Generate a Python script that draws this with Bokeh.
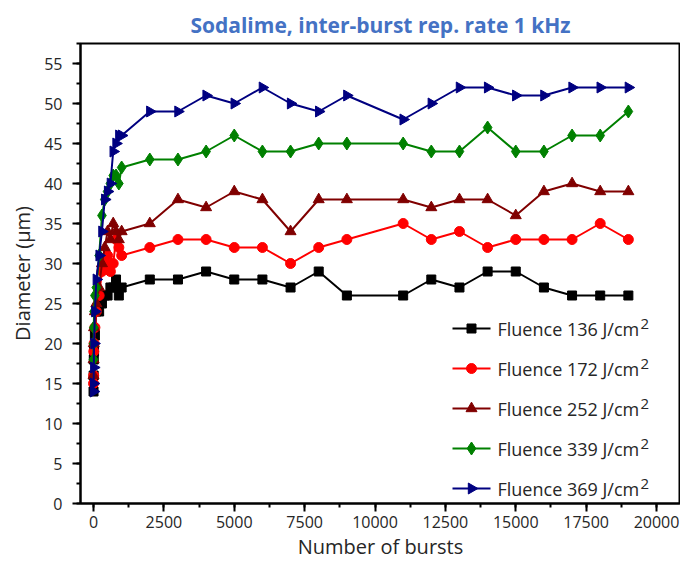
import math
from bokeh.plotting import figure
from bokeh.models import Range1d, SingleIntervalTicker
from bokeh.core.properties import value
from bokeh.embed import file_html
from bokeh.resources import INLINE

# ---- data ----
bursts = [1, 5, 10, 20, 50, 100, 200, 300, 400, 500, 600, 700, 800, 900, 1000,
          2000, 3000, 4000, 5000, 6000, 7000, 8000, 9000, 11000, 12000, 13000,
          14000, 15000, 16000, 17000, 18000, 19000]

d136 = [14, 16, 18, 19, 21, 24, 24, 25, 26, 26, 27, 27, 28, 26, 27,
        28, 28, 29, 28, 28, 27, 29, 26, 26, 28, 27, 29, 29, 27, 26, 26, 26]
d172 = [15, 16, 19, 20, 22, 24, 26, 29, 30, 31, 29, 30, 33, 32, 31,
        32, 33, 33, 32, 32, 30, 32, 33, 35, 33, 34, 32, 33, 33, 33, 35, 33]
d252 = [16, 18, 20, 22, 24, 25, 27, 30, 32, 34, 33, 35, 34, 33, 34,
        35, 38, 37, 39, 38, 34, 38, 38, 38, 37, 38, 38, 36, 39, 40, 39, 39]
d339 = [18, 20, 22, 24, 26, 27, 31, 36, 38, 39, 40, 41, 41, 40, 42,
        43, 43, 44, 46, 44, 44, 45, 45, 45, 44, 44, 47, 44, 44, 46, 46, 49]
d369 = [14, 15, 17, 20, 24, 28, 31, 34, 38, 39, 40, 44, 45, 46, 46,
        49, 49, 51, 50, 52, 50, 49, 51, 48, 50, 52, 52, 51, 51, 52, 52, 52]

fluences = [136, 172, 252, 339, 369]
labels = ["Fluence %d J/cm" % f for f in fluences]

FONT = "Open Sans"
TXT = "#262626"

FRAME_W, FRAME_H = 600, 460
p = figure(width=680, height=562, output_backend="svg", toolbar_location=None,
           x_range=Range1d(-462, 20852), y_range=Range1d(0, 57.5),
           min_border_left=80, min_border_right=0, min_border_top=43, min_border_bottom=59,
           title="Sodalime, inter-burst rep. rate 1 kHz")
# pixel-unit ranges for placing the legend box
p.extra_x_ranges = {"px": Range1d(0, FRAME_W)}
p.extra_y_ranges = {"px": Range1d(0, FRAME_H)}

p.title.align = "center"
p.title.text_font = FONT
p.title.text_font_size = "21px"
p.title.text_font_style = "bold"
p.title.text_color = "#4472C4"
p.title.offset = 0

p.xgrid.visible = False
p.ygrid.visible = False
p.outline_line_color = "black"
p.outline_line_width = 2
p.outline_line_alpha = 1

p.xaxis.ticker = SingleIntervalTicker(interval=2500, num_minor_ticks=2)
p.yaxis.ticker = SingleIntervalTicker(interval=5, num_minor_ticks=2)

for ax in (p.xaxis[0], p.yaxis[0]):
    ax.axis_line_width = 2
    ax.axis_line_color = "black"
    ax.major_tick_line_width = 2
    ax.minor_tick_line_width = 2
    ax.major_tick_in = 0
    ax.major_tick_out = 8
    ax.minor_tick_in = 0
    ax.minor_tick_out = 4
    ax.major_label_text_font = FONT
    ax.major_label_text_font_size = "16px"
    ax.major_label_text_color = TXT
    ax.axis_label_text_font = FONT
    ax.axis_label_text_font_size = "20px"
    ax.axis_label_text_font_style = "normal"
    ax.axis_label_text_color = TXT

p.xaxis.axis_label = "Number of bursts"
p.yaxis.axis_label = "Diameter (\u00b5m)"
p.xaxis.major_label_standoff = 4
p.xaxis.axis_label_standoff = 2
p.yaxis.major_label_standoff = 10
p.yaxis.axis_label_standoff = 5

series = [
    (d136, "black", "square", 9, 0),
    (d172, "#FF0000", "circle", 10, 0),
    (d252, "#800000", "triangle", 11, 0),
    (d339, "#008000", "diamond", 13, 0),
    (d369, "#000080", "triangle", 11, -math.pi / 2),
]

for ys, col, mk, sz, ang in series:
    p.line(bursts, ys, line_color=col, line_width=2)
    p.scatter(bursts, ys, marker=mk, size=sz, angle=ang,
              fill_color=col, line_color=col)

# ---- legend (drawn in pixel units inside the frame) ----
LEG_X0, LEG_GLYPH_W, LEG_TOP, LEG_STEP = 372, 38, 175, 40
for i, ((ys, col, mk, sz, ang), lab) in enumerate(zip(series, labels)):
    yy = LEG_TOP - LEG_STEP * i
    p.line([LEG_X0, LEG_X0 + LEG_GLYPH_W], [yy, yy], line_color=col, line_width=2,
           x_range_name="px", y_range_name="px")
    p.scatter([LEG_X0 + LEG_GLYPH_W / 2], [yy], marker=mk, size=sz, angle=ang,
              fill_color=col, line_color=col, x_range_name="px", y_range_name="px")
    p.text([LEG_X0 + LEG_GLYPH_W + 7], [yy], text=[lab], text_baseline="middle",
           text_align="left", text_font=value(FONT), text_font_size="18px",
           text_color=TXT, x_range_name="px", y_range_name="px")
    p.text([LEG_X0 + LEG_GLYPH_W + 7 + 143], [yy + 5], text=["2"], text_baseline="middle",
           text_align="left", text_font=value(FONT), text_font_size="15px",
           text_color=TXT, x_range_name="px", y_range_name="px")

open("out.html", "w").write(file_html(p, INLINE))
